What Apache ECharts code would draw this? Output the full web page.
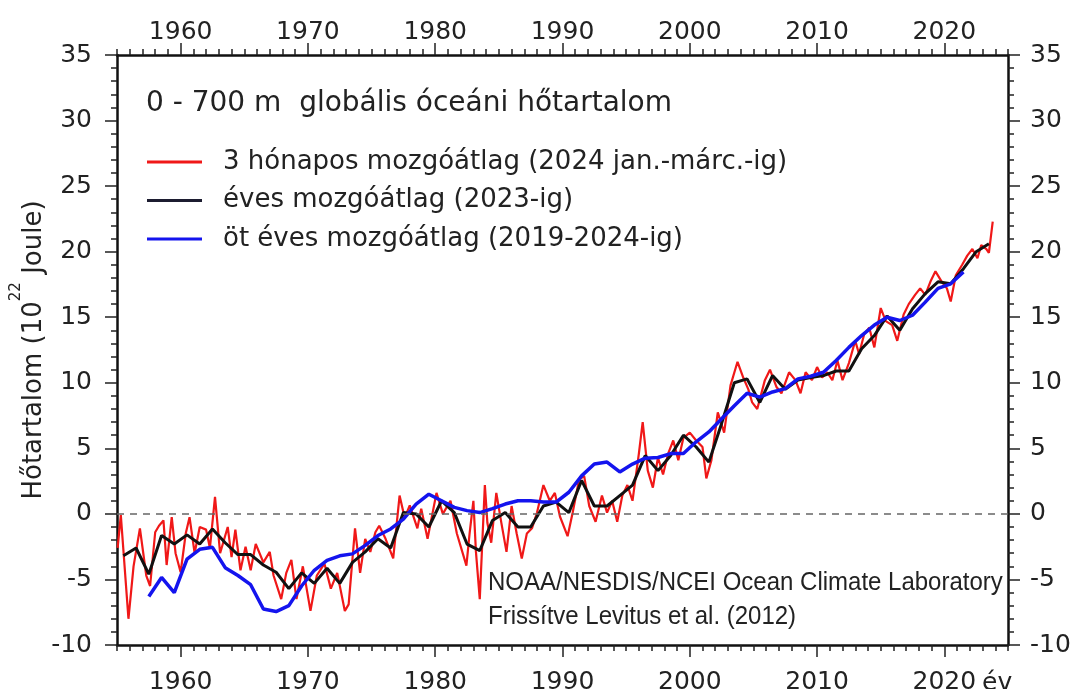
<!DOCTYPE html>
<html><head><meta charset="utf-8">
<script src="https://cdn.jsdelivr.net/npm/echarts@6/dist/echarts.min.js"></script>
<style>html,body{margin:0;padding:0;background:#fff}#c{width:1076px;height:689px}</style>
</head><body><div id="c"></div>
<script>
// ---- data ----
const decadeTicks = [1960, 1970, 1980, 1990, 2000, 2010, 2020];
const seriesNames = [
  '3 hónapos mozgóátlag (2024 jan.-márc.-ig)',
  'éves mozgóátlag (2023-ig)',
  'öt éves mozgóátlag (2019-2024-ig)'
];
// 3-month running mean: time (decimal year) and value (10^22 J)
const redT = [1955.05,1955.3,1955.9,1956.3,1956.8,1957.3,1957.6,1958.0,1958.3,1958.65,1958.9,1959.3,1959.6,1960.0,1960.4,1960.7,1961.1,1961.5,1962.0,1962.3,1962.7,1963.1,1963.7,1964.0,1964.3,1964.7,1965.1,1965.5,1965.9,1966.5,1967.0,1967.3,1967.9,1968.3,1968.7,1969.1,1969.6,1970.2,1970.7,1971.3,1971.8,1972.3,1972.9,1973.2,1973.7,1974.1,1974.5,1974.9,1975.3,1975.6,1976.1,1976.7,1977.2,1977.6,1978.0,1978.6,1978.9,1979.4,1980.1,1980.6,1981.2,1981.7,1982.45,1982.7,1983.0,1983.2,1983.5,1983.9,1984.1,1984.4,1984.8,1985.2,1985.6,1986.0,1986.4,1986.8,1987.2,1987.6,1988.0,1988.5,1989.0,1989.4,1989.8,1990.4,1990.8,1991.3,1991.7,1992.1,1992.6,1993.1,1993.5,1993.9,1994.3,1994.7,1995.1,1995.5,1996.0,1996.3,1996.7,1997.1,1997.5,1997.9,1998.3,1998.7,1999.1,1999.5,2000.0,2000.5,2001.0,2001.3,2001.7,2002.2,2002.7,2003.2,2003.75,2004.2,2004.6,2004.9,2005.3,2005.9,2006.3,2006.8,2007.2,2007.8,2008.3,2008.7,2009.1,2009.6,2010.0,2010.4,2010.8,2011.2,2011.6,2012.0,2012.5,2013.0,2013.3,2013.7,2014.1,2014.5,2015.0,2015.4,2015.9,2016.3,2016.8,2017.2,2017.7,2018.1,2018.5,2018.9,2019.3,2019.8,2020.2,2020.5,2020.9,2021.4,2021.8,2022.2,2022.6,2022.9,2023.3,2023.5,2023.8];
const redV = [-2.6,-0.1,-8.0,-4.0,-1.1,-4.7,-5.5,-1.4,-0.9,-0.5,-3.9,-0.25,-3.0,-4.45,-1.5,-0.25,-3.0,-1.0,-1.2,-2.6,1.3,-3.0,-1.0,-3.3,-1.2,-4.3,-2.5,-4.3,-2.3,-3.7,-2.9,-4.7,-6.5,-4.5,-3.5,-6.5,-4.0,-7.4,-4.7,-3.8,-5.7,-4.5,-7.4,-6.9,-1.1,-4.5,-1.9,-2.9,-1.4,-0.9,-1.9,-3.4,1.4,-0.3,0.65,-1.1,0.4,-1.9,1.6,0.0,1.0,-1.5,-3.95,-1.5,1.0,-2.9,-6.5,2.2,-0.7,-2.2,1.6,-0.7,-2.9,0.6,-1.5,-3.4,-1.5,-1.1,0.1,2.2,1.0,1.6,-0.2,-1.7,0.1,2.6,2.9,0.6,-0.6,1.4,0.1,1.0,-0.6,1.4,2.2,1.0,4.6,7.0,3.3,2.0,4.3,3.0,4.6,5.6,4.1,5.8,6.2,5.6,5.1,2.7,4.1,7.75,6.2,9.8,11.6,10.4,9.5,8.5,8.0,10.2,11.0,9.7,9.2,10.8,10.2,9.2,10.8,10.2,11.2,10.4,10.8,10.2,11.7,10.2,11.5,13.2,12.2,13.7,14.2,12.7,15.7,14.7,14.4,13.2,15.2,16.0,16.7,17.2,16.7,17.7,18.5,17.7,17.2,16.2,18.2,19.0,19.7,20.2,19.5,20.5,20.2,19.9,22.3];
// annual running mean, years 1955..2023
const blackYears = [1955,1956,1957,1958,1959,1960,1961,1962,1963,1964,1965,1966,1967,1968,1969,1970,1971,1972,1973,1974,1975,1976,1977,1978,1979,1980,1981,1982,1983,1984,1985,1986,1987,1988,1989,1990,1991,1992,1993,1994,1995,1996,1997,1998,1999,2000,2001,2002,2003,2004,2005,2006,2007,2008,2009,2010,2011,2012,2013,2014,2015,2016,2017,2018,2019,2020,2021,2022,2023];
const blackV = [-3.2,-2.6,-4.6,-1.65,-2.3,-1.6,-2.3,-1.15,-2.2,-3.1,-3.1,-3.9,-4.45,-5.7,-4.5,-5.3,-4.15,-5.3,-3.7,-2.9,-1.9,-2.6,0.1,0.0,-1.0,1.0,0.1,-2.3,-2.8,-0.5,0.1,-1.0,-1.0,0.6,0.9,0.1,2.55,0.6,0.6,1.4,2.2,4.45,3.3,4.45,6.0,5.1,3.95,6.9,10.0,10.3,8.5,10.55,9.5,10.2,10.4,10.55,10.9,10.9,12.6,13.6,15.1,14.0,15.65,16.8,17.7,17.55,18.7,20.0,20.6];
// pentadal running mean, years 1957..2021
const blueYears = [1957,1958,1959,1960,1961,1962,1963,1964,1965,1966,1967,1968,1969,1970,1971,1972,1973,1974,1975,1976,1977,1978,1979,1980,1981,1982,1983,1984,1985,1986,1987,1988,1989,1990,1991,1992,1993,1994,1995,1996,1997,1998,1999,2000,2001,2002,2003,2004,2005,2006,2007,2008,2009,2010,2011,2012,2013,2014,2015,2016,2017,2018,2019,2020,2021];
const blueV = [-6.3,-4.85,-6.0,-3.45,-2.7,-2.55,-4.1,-4.7,-5.4,-7.25,-7.45,-7.0,-5.5,-4.3,-3.55,-3.2,-3.05,-2.4,-1.65,-1.15,-0.4,0.75,1.5,1.0,0.5,0.25,0.1,0.4,0.75,1.0,1.0,0.9,0.9,1.65,2.9,3.8,3.95,3.2,3.8,4.25,4.3,4.6,4.6,5.5,6.25,7.25,8.25,9.2,8.9,9.3,9.55,10.3,10.5,10.8,11.7,12.7,13.6,14.4,15.0,14.75,15.15,16.15,17.2,17.55,18.45];

// ---- chart ----
const FONT = 'DejaVu Sans';
const TXT = '#222';
const chart = echarts.init(document.getElementById('c'), null, {renderer: 'canvas'});
const G = {left: 117, top: 55, width: 891, height: 590, containLabel: false, outerBoundsMode: 'none'};
const axisLineStyle = {color: '#111', width: 2.5};
const tickStyle = {color: '#222', width: 1.5};

function xAxisMain(pos, margin) {
  return {
    type: 'value', gridIndex: 0, position: pos, min: 1955, max: 2025, interval: 1,
    axisLine: {show: true, onZero: false, lineStyle: axisLineStyle},
    axisTick: {show: true, length: 6, lineStyle: tickStyle},
    axisLabel: {show: true, customValues: decadeTicks, margin: margin, fontFamily: FONT, fontSize: 25, color: TXT, formatter: v => String(v)},
    splitLine: {show: false}
  };
}
function xAxisLong(pos) {
  return {
    type: 'value', gridIndex: 1, position: pos, min: 1955, max: 2025,
    axisLine: {show: false, onZero: false},
    axisTick: {show: true, customValues: decadeTicks, length: 12, lineStyle: tickStyle},
    axisLabel: {show: false}, splitLine: {show: false}
  };
}
function yAxisMain(pos, margin, withName) {
  const a = {
    type: 'value', gridIndex: 0, position: pos, min: -10, max: 35, interval: 5,
    axisLine: {show: true, onZero: false, lineStyle: axisLineStyle},
    axisTick: {show: true, length: 12, lineStyle: tickStyle},
    minorTick: {show: true, splitNumber: 5, length: 6, lineStyle: tickStyle},
    axisLabel: {margin: margin, fontFamily: FONT, fontSize: 25, color: TXT},
    splitLine: {show: false}
  };
  if (withName) {
    a.name = '{n|Hőtartalom (10}{s|22}{n| Joule)}';
    a.nameLocation = 'middle';
    a.nameGap = 70;
    a.nameMoveOverlap = false;
    a.nameTextStyle = {
      fontFamily: FONT, fontSize: 26, color: TXT,
      rich: {
        n: {fontFamily: FONT, fontSize: 26, color: TXT, lineHeight: 38, verticalAlign: 'bottom'},
        s: {fontFamily: FONT, fontSize: 15, color: TXT, lineHeight: 38, verticalAlign: 'top'}
      }
    };
  }
  return a;
}

const option = {
  animation: false,
  backgroundColor: '#fff',
  title: {
    text: '0 - 700 m  globális óceáni hőtartalom',
    left: 146, top: 90, padding: 0,
    textStyle: {fontFamily: FONT, fontSize: 28, fontWeight: 'normal', color: TXT}
  },
  legend: {
    orient: 'vertical', left: 147, top: 149, padding: 0,
    itemWidth: 55, itemHeight: 3, itemGap: 12.5, icon: 'rect',
    data: seriesNames,
    textStyle: {fontFamily: FONT, fontSize: 26, color: TXT, lineHeight: 26, padding: [0, 0, 0, 16]}
  },
  grid: [Object.assign({}, G), Object.assign({}, G)],
  xAxis: [xAxisMain('bottom', 25), xAxisMain('top', 10), xAxisLong('bottom'), xAxisLong('top')],
  yAxis: [yAxisMain('left', 25, true), yAxisMain('right', 22, false),
          {type: 'value', gridIndex: 1, min: -10, max: 35, show: false}],
  graphic: [
    {type: 'text', x: 982, y: 683, style: {text: 'év', font: '25px "DejaVu Sans"', fill: TXT, textVerticalAlign: 'middle'}},
    {type: 'text', x: 488, y: 583, scaleX: 0.923, style: {text: 'NOAA/NESDIS/NCEI Ocean Climate Laboratory', font: '26px "Liberation Sans"', fill: TXT, textVerticalAlign: 'middle'}},
    {type: 'text', x: 488, y: 617, scaleX: 0.923, style: {text: 'Frissítve Levitus et al. (2012)', font: '26px "Liberation Sans"', fill: TXT, textVerticalAlign: 'middle'}}
  ],
  series: [
    {
      name: seriesNames[0], type: 'line', xAxisIndex: 0, yAxisIndex: 0,
      data: redT.map((t, i) => [t, redV[i]]),
      showSymbol: false, symbol: 'none', color: '#f01818',
      lineStyle: {width: 2.2, color: '#f01818'},
      markLine: {
        silent: true, symbol: 'none', label: {show: false},
        lineStyle: {type: [7, 6], color: '#666', width: 1.5},
        data: [{yAxis: 0}]
      },
      z: 2
    },
    {
      name: seriesNames[1], type: 'line', xAxisIndex: 0, yAxisIndex: 0,
      data: blackYears.map((y, i) => [y + 0.5, blackV[i]]),
      showSymbol: false, symbol: 'none', color: '#1c1c30',
      lineStyle: {width: 3, color: '#111'}, z: 3
    },
    {
      name: seriesNames[2], type: 'line', xAxisIndex: 0, yAxisIndex: 0,
      data: blueYears.map((y, i) => [y + 0.5, blueV[i]]),
      showSymbol: false, symbol: 'none', color: '#1414ee',
      lineStyle: {width: 3.5, color: '#1414ee'}, z: 4
    }
  ]
};
chart.setOption(option);
</script>
</body></html>
